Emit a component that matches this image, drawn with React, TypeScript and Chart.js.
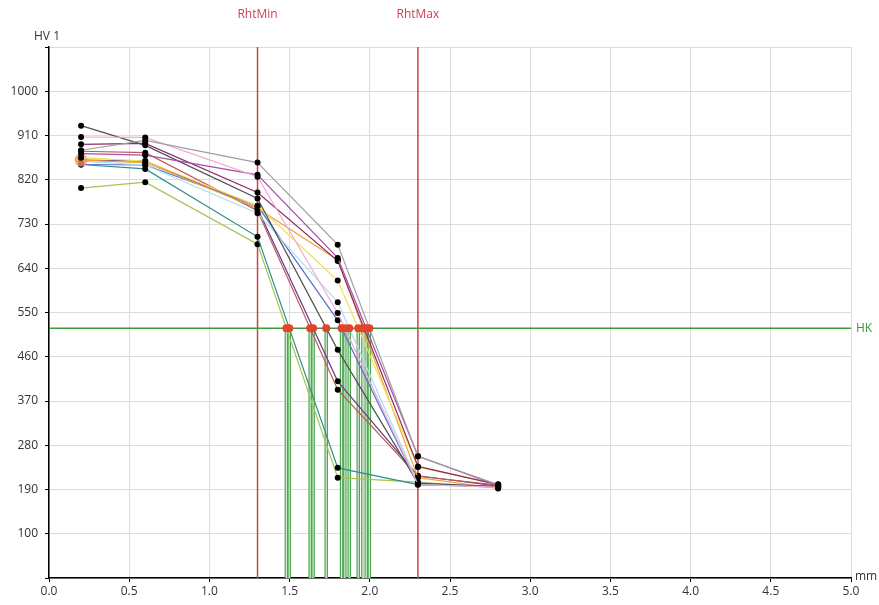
import React, { useEffect, useRef } from "react";
import { Chart, registerables } from "chart.js";

Chart.register(...registerables);

// Depth positions (mm) of the measurement points
const depths = [0.2, 0.6, 1.3, 1.8, 2.3, 2.8];

// Hardness values (HV 1) per measurement series
const hvGray = [880, 900, 855, 688, 257, 200];
const hvPink = [907, 906, 826, 549, 200, 195];
const hvPurple = [873, 870, 830, 661, 258, 198];
const hvMagenta = [892, 894, 794, 655, 237, 200];
const hvDarkGray = [930, 890, 782, 474, 203, 196];
const hvYellow = [865, 858, 767, 615, 236, 200];
const hvOrange = [860, 855, 762, 657, 214, 192];
const hvCyan = [858, 850, 752, 571, 203, 194];
const hvBlue = [851, 850, 767, 534, 200, 196];
const hvTeal = [851, 842, 704, 234, 200, 196];
const hvOlive = [803, 815, 689, 214, 205, 193];
const hvBrown = [878, 875, 757, 393, 217, 199];
const hvViolet = [860, 858, 762, 410, 218, 197];

const seriesValues = [
  hvGray, hvPink, hvPurple, hvMagenta, hvDarkGray, hvYellow, hvOrange,
  hvCyan, hvBlue, hvTeal, hvOlive, hvBrown, hvViolet,
];
const seriesColors = [
  "#a0a0a0", "#f2a8d2", "#a650a8", "#8b2c66", "#505050", "#f0e050", "#f2a23c",
  "#a8e2f0", "#5a70d0", "#2e8f8a", "#a8c250", "#c05a5a", "#6a3d8a",
];

// Limits
const HK = 518;
const RHT_MIN = 1.3;
const RHT_MAX = 2.3;

// Axes
const xMin = 0;
const xMax = 5;
const xStep = 0.5;
const yMin = 10;
const yMax = 1090;
const yTickLabels = [100, 190, 280, 370, 460, 550, 640, 730, 820, 910, 1000];

function hkCrossing(values: number[]): number | null {
  for (let i = 0; i < values.length - 1; i++) {
    const a = values[i];
    const b = values[i + 1];
    if (a >= HK && b < HK) {
      return depths[i] + ((depths[i + 1] - depths[i]) * (a - HK)) / (a - b);
    }
  }
  return null;
}

const FONT = "'Open Sans', 'Liberation Sans', sans-serif";

const textPlugin = {
  id: "annotText",
  afterDraw(chart: any) {
    const { ctx, chartArea, scales } = chart;
    const xs = scales.x;
    const ys = scales.y;
    ctx.save();
    ctx.font = `12px ${FONT}`;
    ctx.textBaseline = "middle";
    ctx.fillStyle = "#d04050";
    ctx.textAlign = "center";
    ctx.fillText("RhtMin", xs.getPixelForValue(RHT_MIN), 15);
    ctx.fillText("RhtMax", xs.getPixelForValue(RHT_MAX), 15);
    ctx.fillStyle = "#3c9a3c";
    ctx.textAlign = "left";
    ctx.fillText("HK", chartArea.right + 5, ys.getPixelForValue(HK));
    ctx.fillStyle = "#333";
    ctx.textAlign = "center";
    ctx.fillText("HV 1", chartArea.left - 2, 37);
    ctx.textAlign = "left";
    ctx.fillText("mm", chartArea.right + 4, chartArea.bottom - 1);
    ctx.restore();
  },
};

export default function App() {
  const ref = useRef<HTMLCanvasElement | null>(null);

  useEffect(() => {
    if (!ref.current) return;
    const crossings = seriesValues
      .map((v) => hkCrossing(v))
      .filter((c): c is number => c !== null);

    const datasets: any[] = [];

    // Rht limit lines
    [RHT_MIN, RHT_MAX].forEach((r) => {
      datasets.push({
        data: [{ x: r, y: yMin }, { x: r, y: yMax }],
        showLine: true,
        borderColor: "#c8463c",
        borderWidth: 1.5,
        pointRadius: 0,
        order: 6,
      });
    });

    // Green verticals from HK crossing down to the axis
    crossings.forEach((c) => {
      datasets.push({
        data: [{ x: c, y: HK }, { x: c, y: yMin }],
        showLine: true,
        borderColor: "#4fa64f",
        borderWidth: 3.5,
        pointRadius: 0,
        order: 5,
      });
      datasets.push({
        data: [{ x: c, y: HK }, { x: c, y: yMin }],
        showLine: true,
        borderColor: "#d6ecd6",
        borderWidth: 1.2,
        pointRadius: 0,
        order: 4,
      });
    });

    // HK line
    datasets.push({
      data: [{ x: xMin, y: HK }, { x: xMax, y: HK }],
      showLine: true,
      borderColor: "#3c9a3c",
      borderWidth: 1.5,
      pointRadius: 0,
      order: 3,
    });

    // Measurement series
    seriesValues.forEach((vals, i) => {
      const isOrange = seriesColors[i] === "#f2a23c";
      datasets.push({
        data: vals.map((v, j) => ({ x: depths[j], y: v })),
        showLine: true,
        borderColor: seriesColors[i],
        borderWidth: 1.2,
        pointRadius: isOrange ? vals.map((_, j) => (j === 0 ? 6.5 : 3)) : 3,
        pointBackgroundColor: isOrange
          ? vals.map((_, j) => (j === 0 ? "rgba(240,150,90,0.8)" : "#000"))
          : "#000",
        pointBorderWidth: 0,
        order: 2,
      });
    });

    // Red crossing dots
    datasets.push({
      data: crossings.map((c) => ({ x: c, y: HK })),
      showLine: false,
      pointRadius: 4,
      pointBackgroundColor: "#e0452c",
      pointBorderWidth: 0,
      order: 0,
    });

    const chart = new Chart(ref.current, {
      type: "scatter",
      data: { datasets },
      options: {
        animation: false,
        responsive: false,
        devicePixelRatio: 1,
        layout: { padding: { top: 47, right: 28, left: 0, bottom: 0 } },
        plugins: { legend: { display: false }, tooltip: { enabled: false } },
        scales: {
          x: {
            type: "linear",
            min: xMin,
            max: xMax,
            ticks: {
              stepSize: xStep,
              color: "#333",
              font: { family: FONT, size: 12 },
              padding: 2,
              maxRotation: 0,
              callback: (v: any) => Number(v).toFixed(1),
            },
            grid: { color: "#dcdcdc", tickColor: "#000", tickLength: 4, lineWidth: 1 },
            border: { color: "#000", width: 1.5 },
            afterFit: (s: any) => {
              s.height = 27;
            },
          },
          y: {
            type: "linear",
            min: yMin,
            max: yMax,
            afterBuildTicks: (s: any) => {
              s.ticks = [yMin, ...yTickLabels, yMax].map((v) => ({ value: v }));
            },
            ticks: {
              color: "#333",
              font: { family: FONT, size: 12 },
              padding: 7,
              callback: (v: any) => (yTickLabels.includes(Number(v)) ? String(v) : ""),
            },
            grid: { color: "#dcdcdc", tickColor: "#000", tickLength: 4, lineWidth: 1 },
            border: { color: "#000", width: 1.5 },
            afterFit: (s: any) => {
              s.width = 49;
            },
          },
        },
      },
      plugins: [textPlugin],
    });
    return () => chart.destroy();
  }, []);

  return (
    <div style={{ position: "absolute", left: 0, top: 0, width: 879, height: 605, background: "#fff" }}>
      <canvas ref={ref} width={879} height={605} style={{ width: 879, height: 605, display: "block" }} />
    </div>
  );
}
